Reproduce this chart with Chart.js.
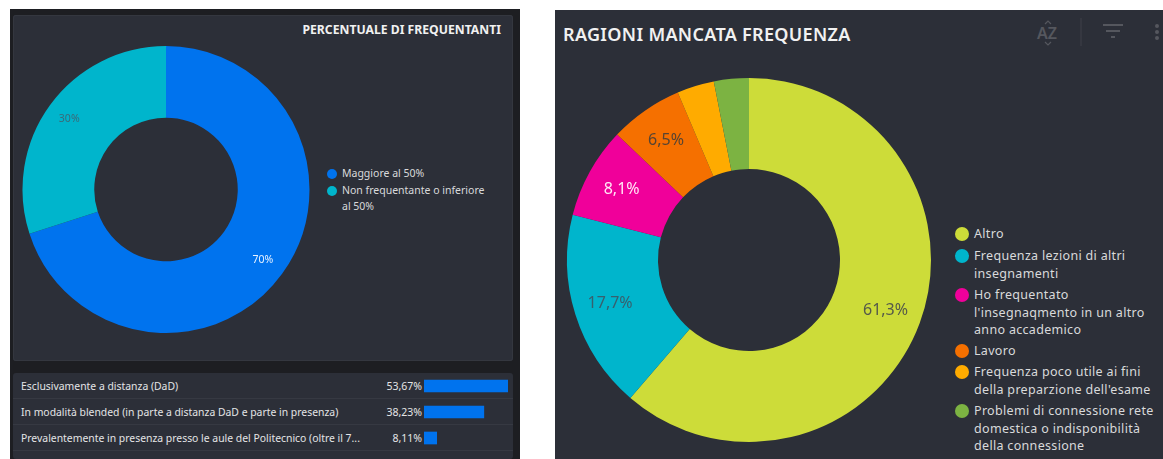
<!DOCTYPE html>
<html><head><meta charset="utf-8">
<script src="https://cdn.jsdelivr.net/npm/chart.js@4/dist/chart.umd.min.js"></script>
<style>
html,body{margin:0;padding:0;background:#fff;width:1163px;height:459px;overflow:hidden;font-family:"Noto Sans",sans-serif}
.abs{position:absolute}
#leftPanel{left:10px;top:9px;width:510px;height:450px;background:#1d1e22}
#card{left:13px;top:15px;width:500px;height:346px;background:#2c2f38;border-radius:3px;box-shadow:0 0 0 1px #34373f inset}
#table{left:13px;top:373px;width:500px;height:86px;background:#2c2f38;border-radius:3px}
#rightPanel{left:555px;top:10px;width:608px;height:449px;background:#2c2f38}
#lt{top:21px;right:662px;font-size:12.2px;font-weight:700;color:#f1f1f1;line-height:17px}
#rt{left:563px;top:22px;font-size:18px;font-weight:600;color:#f1f1f1;line-height:24px;letter-spacing:.32px}
canvas{display:block}
.row{position:absolute;left:13px;width:500px;height:26px;box-sizing:border-box;border-bottom:1px solid #363942}
.rl{position:absolute;left:21px;font-size:10.4px;color:#e4e5e6;line-height:14px;white-space:nowrap}
.rv{position:absolute;right:741px;font-size:10.5px;color:#e4e5e6;line-height:14px}
.lg{position:absolute;color:#d9dadb;white-space:nowrap}
.dot{position:absolute;border-radius:50%}
</style></head><body>
<div class="abs" id="leftPanel"></div>
<div class="abs" id="card"></div>
<div class="abs" id="table"></div>
<div class="abs" id="rightPanel"></div>
<div class="abs" id="lt">PERCENTUALE DI FREQUENTANTI</div>
<div class="abs" id="rt">RAGIONI MANCATA FREQUENZA</div>
<div id="rows"></div><div id="legends"></div>
<svg class="abs" style="left:1030px;top:15px" width="133" height="36" fill="none" stroke="#55575e">
<text x="7" y="24" font-family="Noto Sans" font-size="16" font-weight="600" fill="#55575e" stroke="none">AZ</text>
<path d="M15 9l3-3 3 3M15 27l3 3 3-3" stroke-width="1.2"/>
<path d="M51 3v28" stroke="#3e4048"/>
<path d="M73 10h20M76 16h14M81 22h4" stroke-width="2"/>
<path d="M127 11v0M127 17v0M127 23v0" stroke-width="4" stroke-linecap="round"/>
</svg>
<canvas id="c1" class="abs" style="left:13px;top:30px" width="306" height="319"></canvas>
<canvas id="c2" class="abs" style="left:559px;top:70px" width="380" height="380"></canvas>
<canvas id="c3" class="abs" style="left:424px;top:373px" width="84" height="78"></canvas>
<script>
const freqLabels = ["Maggiore al 50%", "Non frequentante o inferiore al 50%"];
const freqValues = [70, 30];
const freqText = ["70%", "30%"];
const freqColors = ["#0073ee", "#00b5cc"];
const freqLabelColors = ["#e8f2ff", "#3a6a78"];
const freqLegendLines = [["Maggiore al 50%"], ["Non frequentante o inferiore", "al 50%"]];

const reasonLabels = ["Altro", "Frequenza lezioni di altri insegnamenti", "Ho frequentato l'insegnaqmento in un altro anno accademico", "Lavoro", "Frequenza poco utile ai fini della preparzione dell'esame", "Problemi di connessione rete domestica o indisponibilità della connessione"];
const reasonValues = [61.3, 17.7, 8.1, 6.5, 3.3, 3.1];
const reasonText = ["61,3%", "17,7%", "8,1%", "6,5%", "", ""];
const reasonColors = ["#cddc39", "#00b5cc", "#f0009a", "#f57000", "#ffab00", "#7cb342"];
const reasonLabelColors = ["#55594a", "#37606e", "#ffe6f5", "#574432", "", ""];
const reasonLegendLines = [["Altro"], ["Frequenza lezioni di altri", "insegnamenti"], ["Ho frequentato", "l'insegnaqmento in un altro", "anno accademico"], ["Lavoro"], ["Frequenza poco utile ai fini", "della preparzione dell'esame"], ["Problemi di connessione rete", "domestica o indisponibilità", "della connessione"]];

const modeLabels = ["Esclusivamente a distanza (DaD)", "In modalità blended (in parte a distanza DaD e parte in presenza)", "Prevalentemente in presenza presso le aule del Politecnico (oltre il 7..."];
const modeValues = [53.67, 38.23, 8.11];
const modeText = ["53,67%", "38,23%", "8,11%"];

function sliceLabels(texts, colors, font, frac) {
  return { id: "sliceLabels", afterDatasetsDraw(chart) {
    const ctx = chart.ctx; ctx.save();
    ctx.font = font; ctx.textAlign = "center"; ctx.textBaseline = "middle";
    chart.getDatasetMeta(0).data.forEach((arc, i) => {
      if (!texts[i]) return;
      const a = (arc.startAngle + arc.endAngle) / 2;
      const r = arc.innerRadius + (arc.outerRadius - arc.innerRadius) * frac;
      ctx.fillStyle = colors[i];
      ctx.fillText(texts[i], arc.x + Math.cos(a) * r, arc.y + Math.sin(a) * r);
    });
    ctx.restore();
  }};
}
function donut(id, labels, values, colors, texts, tcolors, font, radius, frac) {
  new Chart(document.getElementById(id), {
    type: "doughnut",
    data: { labels, datasets: [{ data: values, backgroundColor: colors, borderWidth: 0 }] },
    options: { responsive: false, animation: false, cutout: "50%", radius,
      layout: { padding: 0 }, plugins: { legend: { display: false }, tooltip: { enabled: false } } },
    plugins: [sliceLabels(texts, tcolors, font, frac)]
  });
}
donut("c1", freqLabels, freqValues, freqColors, freqText, freqLabelColors, '10.5px "Noto Sans"', 143.5, 0.667);
donut("c2", reasonLabels, reasonValues, reasonColors, reasonText, reasonLabelColors, '16px "Noto Sans"', 182, 0.6);

new Chart(document.getElementById("c3"), {
  type: "bar",
  data: { labels: modeLabels, datasets: [{ data: modeValues, backgroundColor: "#0073ee", barThickness: 12, borderWidth: 0 }] },
  options: { indexAxis: "y", responsive: false, animation: false, layout: { padding: 0 },
    scales: { x: { display: false, min: 0, max: modeValues[0] }, y: { display: false } },
    plugins: { legend: { display: false }, tooltip: { enabled: false } } }
});

const rows = document.getElementById("rows");
modeLabels.forEach((l, i) => {
  const y = 373 + 26 * i;
  rows.insertAdjacentHTML("beforeend",
    `<div class="row" style="top:${y}px"></div><div class="rl" style="top:${y + 6}px">${l}</div><div class="rv" style="top:${y + 6}px">${modeText[i]}</div>`);
});
function legend(lines, colors, x, ys, size, lh, dot, spacing) {
  const box = document.getElementById("legends");
  lines.forEach((ls, i) => {
    box.insertAdjacentHTML("beforeend",
      `<div class="dot" style="left:${x}px;top:${ys[i] + (lh - dot) / 2}px;width:${dot}px;height:${dot}px;background:${colors[i]}"></div>` +
      `<div class="lg" style="left:${x + dot + 5}px;top:${ys[i]}px;font-size:${size}px;line-height:${lh}px;letter-spacing:${spacing}px">${ls.join("<br>")}</div>`);
  });
}
legend(freqLegendLines, freqColors, 327, [166, 183], 10.5, 15.5, 10, 0);
legend(reasonLegendLines, reasonColors, 955, [225, 247, 286, 342, 363, 402], 12.5, 17.5, 14, 0.32);
</script>
</body></html>
